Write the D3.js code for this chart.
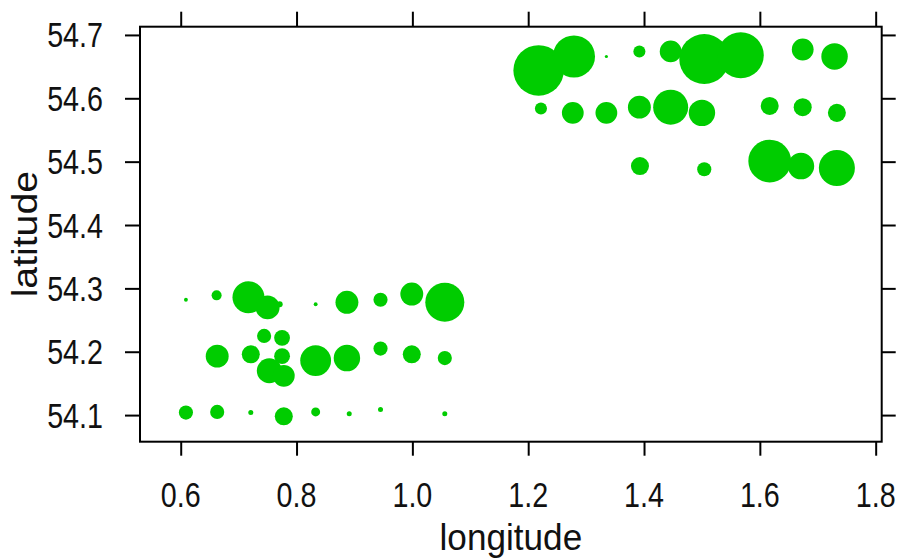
<!DOCTYPE html>
<html>
<head>
<meta charset="utf-8">
<script src="https://cdn.jsdelivr.net/npm/d3@7"></script>
<style>
  body { margin: 0; background: #fff; }
  text { font-family: "Liberation Sans", Arial, sans-serif; fill: #111; }
</style>
</head>
<body>
<svg class="plot" width="897" height="560"></svg>
<script>
// point locations and relative magnitudes
var lon = [1.218, 1.279, 1.335, 1.392, 1.446, 1.504, 1.567, 1.674, 1.729,
           1.222, 1.277, 1.335, 1.392, 1.446, 1.500, 1.617, 1.674, 1.733,
           1.393, 1.504, 1.617, 1.671, 1.733,
           0.609, 0.662, 0.717, 0.750, 0.771, 0.833, 0.887, 0.945, 0.999, 1.056,
           0.744, 0.775, 0.663, 0.721, 0.775, 0.753, 0.778, 0.833, 0.887, 0.945, 0.999, 1.056,
           0.609, 0.663, 0.721, 0.778, 0.833, 0.891, 0.945, 1.056];
var lat = [54.644, 54.666, 54.666, 54.674, 54.674, 54.662, 54.668, 54.677, 54.666,
           54.584, 54.577, 54.577, 54.586, 54.586, 54.577, 54.588, 54.586, 54.577,
           54.493, 54.488, 54.501, 54.493, 54.490,
           54.282, 54.289, 54.286, 54.270, 54.275, 54.275, 54.278, 54.282, 54.291, 54.278,
           54.225, 54.222, 54.193, 54.196, 54.193, 54.170, 54.162, 54.186, 54.190, 54.205, 54.196, 54.190,
           54.104, 54.105, 54.104, 54.098, 54.105, 54.102, 54.109, 54.102];
var mag = [102, 71, 0.4, 5.8, 19, 100, 85, 19, 28,
           5.8, 19, 19, 21, 49, 28, 13, 13, 13,
           13, 8, 73, 28, 52,
           0.6, 4, 41, 23, 1.4, 0.6, 21, 8, 21, 61,
           8, 10, 21, 13, 10, 25, 19, 38, 28, 8, 13, 8,
           8, 8, 1, 13, 3.2, 1, 1, 1];

var xTicks = [0.6, 0.8, 1.0, 1.2, 1.4, 1.6, 1.8];
var yTicks = [54.1, 54.2, 54.3, 54.4, 54.5, 54.6, 54.7];

var svg = d3.select(".plot"),
    pL = 140, pR = 881.7, pT = 26.7, pB = 441.7;

var x = d3.scaleLinear().domain([0.5297, 1.8104]).range([pL, pR]);
var y = d3.scaleLinear().domain([54.058, 54.713]).range([pB, pT]);
var r = d3.scaleSqrt().domain([0, 100]).range([0, 25]);

svg.append("clipPath").attr("id", "clip")
    .append("rect")
    .attr("x", pL).attr("y", pT)
    .attr("width", pR - pL).attr("height", pB - pT);

svg.append("g")
    .attr("clip-path", "url(#clip)")
    .selectAll("circle")
    .data(lon)
    .enter().append("circle")
    .attr("cx", function(d) { return x(d); })
    .attr("cy", function(d, i) { return y(lat[i]); })
    .attr("r", function(d, i) { return r(mag[i]); })
    .attr("fill", "#00cc00");

// frame
svg.append("rect")
    .attr("x", pL).attr("y", pT)
    .attr("width", pR - pL).attr("height", pB - pT)
    .attr("fill", "none")
    .attr("stroke", "#000")
    .attr("stroke-width", 2);

function styleAxis(g) {
    g.select(".domain").remove();
    g.selectAll(".tick line").attr("stroke", "#000").attr("stroke-width", 2);
}

svg.append("g")
    .attr("transform", "translate(0," + pB + ")")
    .call(d3.axisBottom(x).tickValues(xTicks).tickSize(14).tickFormat(""))
    .call(styleAxis);
svg.append("g")
    .attr("transform", "translate(0," + pT + ")")
    .call(d3.axisTop(x).tickValues(xTicks).tickSize(15).tickFormat(""))
    .call(styleAxis);
svg.append("g")
    .attr("transform", "translate(" + pL + ",0)")
    .call(d3.axisLeft(y).tickValues(yTicks).tickSize(15).tickFormat(""))
    .call(styleAxis);
svg.append("g")
    .attr("transform", "translate(" + pR + ",0)")
    .call(d3.axisRight(y).tickValues(yTicks).tickSize(14).tickFormat(""))
    .call(styleAxis);

// tick labels (narrow, like the original device font)
svg.append("g").selectAll("text")
    .data(xTicks)
    .enter().append("text")
    .attr("transform", function(d) { return "translate(" + x(d) + ",507) scale(0.82,1)"; })
    .attr("text-anchor", "middle")
    .style("font-size", "35px")
    .text(function(d) { return d.toFixed(1); });

svg.append("g").selectAll("text")
    .data(yTicks)
    .enter().append("text")
    .attr("transform", function(d) { return "translate(103," + (y(d) + 12.5) + ") scale(0.82,1)"; })
    .attr("text-anchor", "end")
    .style("font-size", "35px")
    .text(function(d) { return d.toFixed(1); });

svg.append("text")
    .attr("transform", "translate(" + (pL + pR) / 2 + ",550) scale(0.95,1)")
    .attr("text-anchor", "middle")
    .style("font-size", "37px")
    .text("longitude");

svg.append("text")
    .attr("transform", "translate(37," + (pT + pB) / 2 + ") rotate(-90) scale(1.12,1)")
    .attr("text-anchor", "middle")
    .style("font-size", "35px")
    .text("latitude");
</script>
</body>
</html>
